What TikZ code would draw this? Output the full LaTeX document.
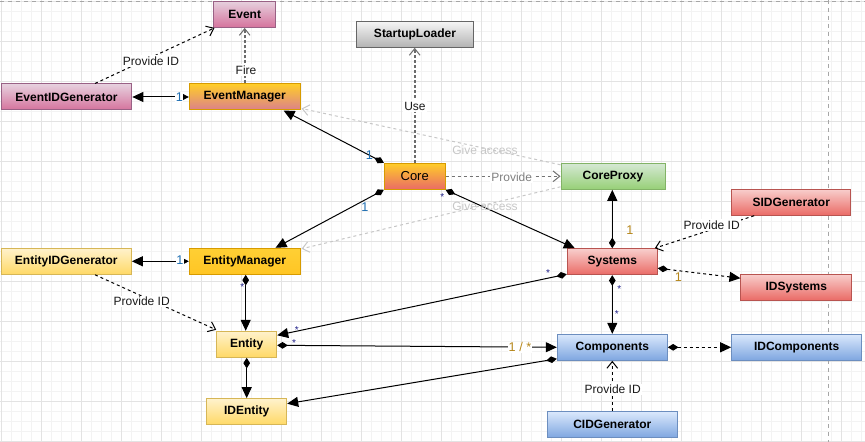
\documentclass[tikz,border=0pt]{standalone}
\usepackage{fontspec}
\setmainfont{Liberation Sans}
\usetikzlibrary{arrows.meta,calc}
\definecolor{pinkT}{HTML}{E6D0DE}\definecolor{pinkD}{HTML}{D5739D}\definecolor{pinkB}{HTML}{996185}
\definecolor{orT}{HTML}{FFCD28}\definecolor{orB}{HTML}{D79B00}
\definecolor{redT}{HTML}{F8CECC}\definecolor{redD}{HTML}{EA6B66}\definecolor{redB}{HTML}{B85450}
\definecolor{yelT}{HTML}{FFF2CC}\definecolor{yelD}{HTML}{FFD966}\definecolor{yelB}{HTML}{D6B656}
\definecolor{grT}{HTML}{F5F5F5}\definecolor{grD}{HTML}{B3B3B3}\definecolor{grB}{HTML}{666666}
\definecolor{gnT}{HTML}{D5E8D4}\definecolor{gnD}{HTML}{97D077}\definecolor{gnB}{HTML}{82B366}
\definecolor{blT}{HTML}{DAE8FC}\definecolor{blD}{HTML}{7EA6E0}\definecolor{blB}{HTML}{6C8EBF}
\definecolor{gridmin}{HTML}{F3F3F3}\definecolor{gridmaj}{HTML}{E3E3E3}
\definecolor{multblue}{HTML}{1F6FB2}\definecolor{multgold}{HTML}{B5861A}\definecolor{starblue}{HTML}{22228A}
\begin{document}
\begin{tikzpicture}[x=0.75pt,y=-0.75pt,
  dia/.tip={Diamond[length=8pt,width=5pt]},
  tri/.tip={Triangle[length=8.25pt,width=7.5pt]},
  stri/.tip={Triangle[length=5pt,width=5pt]},
  opn/.tip={Straight Barb[length=5pt,width=8pt,line width=0.75pt]},
  box/.style={draw, line width=0.75pt, minimum height=19.5pt, inner sep=0pt,
    font=\bfseries\fontsize{9}{11}\selectfont},
  pinkbox/.style={box, draw=pinkB, top color=pinkT, bottom color=pinkD},
  evmbox/.style={box, draw=orB, top color=orT, bottom color=pinkD!85!orT},
  corebox/.style={box, draw=orB, top color=orT, bottom color=redD,
    font=\fontsize{9.75}{11}\selectfont},
  entmbox/.style={box, draw=orB, top color=orT!80!yelD, bottom color=orT!90!orange},
  redbox/.style={box, draw=redB, top color=redT, bottom color=redD},
  yelbox/.style={box, draw=yelB, top color=yelT, bottom color=yelD},
  graybox/.style={box, draw=grB, top color=grT, bottom color=grD},
  greenbox/.style={box, draw=gnB, top color=gnT, bottom color=gnD},
  bluebox/.style={box, draw=blB, top color=blT, bottom color=blD},
  conn/.style={line width=0.75pt, black},
  dsh/.style={line width=0.75pt, black, dash pattern=on 2.25pt off 2.25pt},
  gdot/.style={line width=1.5pt, black!58, dash pattern=on 2.25pt off 1.5pt},
  gdash/.style={line width=0.75pt, black!55, dash pattern=on 2.25pt off 2.25pt},
  lgdash/.style={line width=0.75pt, black!22, dash pattern=on 2.25pt off 2.25pt},
  lbl/.style={font=\fontsize{9}{10}\selectfont, inner sep=1pt, text=black!90},
  wlbl/.style={lbl, fill=white},
  mult/.style={font=\fontsize{9.5}{10}\selectfont, inner sep=0.5pt},
  star/.style={font=\fontsize{7.5}{8}\selectfont, inner sep=0pt, text=starblue, yshift=1.2pt}
]
\useasboundingbox (0,0) rectangle (865,442);
\fill[white] (0,0) rectangle (865,442);
% grid
\foreach \i in {0,...,86} \draw[gridmin, line width=0.75pt] ({1.7+10*\i},0) -- ({1.7+10*\i},442);
\foreach \i in {0,...,44} \draw[gridmin, line width=0.75pt] (0,{1.7+10*\i}) -- (865,{1.7+10*\i});
\foreach \i in {0,...,21} \draw[gridmaj, line width=0.75pt] ({1.7+40*\i},0) -- ({1.7+40*\i},442);
\foreach \i in {0,...,11} \draw[gridmaj, line width=0.75pt] (0,{1.7+40*\i}) -- (865,{1.7+40*\i});
\draw[black!35, line width=0.75pt, dash pattern=on 3pt off 3pt] (0,1.1) -- (865,1.1);
\draw[black!35, line width=0.75pt, dash pattern=on 3pt off 3pt] (828.3,0) -- (828.3,442);

% nodes
\node[pinkbox, minimum width=61.5*0.75pt] (ev) at (244.7,14.4) {Event};
\node[pinkbox, minimum width=130.7*0.75pt] (eidg) at (66.5,97) {EventIDGenerator};
\node[evmbox, minimum width=110.7*0.75pt] (evm) at (244.7,97) {EventManager};
\node[graybox, minimum width=116.6*0.75pt] (sl) at (415,34.3) {StartupLoader};
\node[corebox, minimum width=60.7*0.75pt] (core) at (414.7,176.3) {Core};
\node[greenbox, minimum width=104*0.75pt] (cp) at (613,176.3) {CoreProxy};
\node[redbox, minimum width=119.3*0.75pt] (sidg) at (791.3,202.2) {SIDGenerator};
\node[redbox, minimum width=90*0.75pt] (sys) at (612.3,261.7) {Systems};
\node[redbox, minimum width=110.7*0.75pt] (ids) at (796.3,287.2) {IDSystems};
\node[yelbox, minimum width=130*0.75pt] (eig) at (66.3,261.3) {EntityIDGenerator};
\node[entmbox, minimum width=110.7*0.75pt] (entm) at (244.7,261.3) {EntityManager};
\node[yelbox, minimum width=60*0.75pt] (ent) at (246.7,344.3) {Entity};
\node[yelbox, minimum width=80*0.75pt] (ide) at (246.7,411.7) {IDEntity};
\node[bluebox, minimum width=110*0.75pt] (comp) at (612.3,347.3) {Components};
\node[bluebox, minimum width=130*0.75pt] (idc) at (796.7,347.3) {IDComponents};
\node[bluebox, minimum width=130*0.75pt] (cidg) at (612.3,424.7) {CIDGenerator};

% connectors
\draw[conn, {tri}-{stri}] (eidg.east) -- (evm.west);
\draw[dsh, -{opn}] ($(eidg.north)+(28.5,0)$) -- ($(ev.south west)+(1,0)$);
\draw[gdot, -{opn}] (evm.north) -- (ev.south);
\draw[conn, {dia}-{tri}] (core.north west) -- ($(evm.south east)+(-17,0)$);
\draw[gdot, -{opn}] (core.north) -- (core.north |- sl.south);
\draw[gdash, -{opn}] (core.east) -- (core.east -| cp.west);
\draw[lgdash, -{opn}] ($(cp.north west)+(0,2)$) -- ($(evm.south east)+(1,-2)$);
\draw[lgdash, -{opn}] ($(cp.south west)+(0,-3)$) -- ($(entm.north east)+(1,1)$);
\draw[conn, {dia}-{tri}] (core.south west) -- ($(entm.north east)+(-25,0)$);
\draw[conn, {dia}-{tri}] (core.south east) -- ($(sys.north west)+(8,0)$);
\draw[conn, {dia}-{tri}] (sys.north) -- (sys.north |- cp.south);
\draw[dsh, -{opn}] ($(sidg.south west)+(23,0)$) -- ($(sys.north east)+(-3,0)$);
\draw[dsh, {dia}-{tri}] ($(sys.east)+(0,6.5)$) -- ($(ids.west)+(0,-9)$);
\draw[conn, {dia}-{tri}] (sys.south) -- (sys.south |- comp.north);
\draw[conn, {dia}-{tri}] ($(sys.south west)+(0,-1)$) -- ($(ent.north east)+(0,4.5)$);
\draw[conn, {dia}-{tri}] ($(ent.east)+(0,1)$) -- (comp.west);
\draw[conn, {dia}-{tri}] ($(comp.south west)+(0,-2)$) -- ($(ide.east)+(0,-8)$);
\draw[conn, {dia}-{tri}] ($(entm.south)+(1,0)$) -- ($(ent.north)+(-1,0)$);
\draw[conn, {tri}-{stri}] (eig.east) -- (entm.west);
\draw[dsh, -{opn}] ($(eig.south)+(28.7,0)$) -- ($(ent.north west)+(0,-1)$);
\draw[conn, {dia}-{tri}] (ent.south) -- (ide.north);
\draw[dsh, {dia}-{tri}] (comp.east) -- (idc.west);
\draw[dsh, -{opn}] (cidg.north) -- (comp.south);

% labels
\node[wlbl] (l1) at (151,61) {Provide ID};
\node[wlbl] (l2) at (246,70) {Fire};
\node[wlbl] (l3) at (415,106) {Use};
\node[lbl, fill=white, text=black!50] (l4) at (511.7,177.5) {Provide};
\node[lbl, text=black!22] (l5) at (485,150) {Give access};
\node[lbl, text=black!22] (l6) at (485,206.7) {Give access};
\node[wlbl] (l7) at (711.7,225) {Provide ID};
\node[wlbl] (l8) at (141.7,301.7) {Provide ID};
\node[wlbl] (l9) at (612.7,389.3) {Provide ID};
\node[mult, text=multblue, fill=white] (m1) at (179.3,96.7) {1};
\node[mult, text=multblue, fill=white] (m2) at (180,260.5) {1};
\node[mult, text=multblue] (m3) at (369.3,155) {1};
\node[mult, text=multblue] (m4) at (365,206.7) {1};
\node[mult, text=multgold] (m5) at (630,230) {1};
\node[mult, text=multgold] (m6) at (678.3,276.7) {1};
\node[mult, text=multgold, fill=white] (m7) at (520,347.3) {1 / *};
\node[star] (s1) at (442.3,198.3) {*};
\node[star] (s2) at (619.3,290.5) {*};
\node[star] (s3) at (616.7,316) {*};
\node[star] (s4) at (548,274.5) {*};
\node[star] (s5) at (296.7,332) {*};
\node[star] (s6) at (294,345) {*};
\node[star] (s7) at (242.3,288.5) {*};
\end{tikzpicture}
\end{document}
